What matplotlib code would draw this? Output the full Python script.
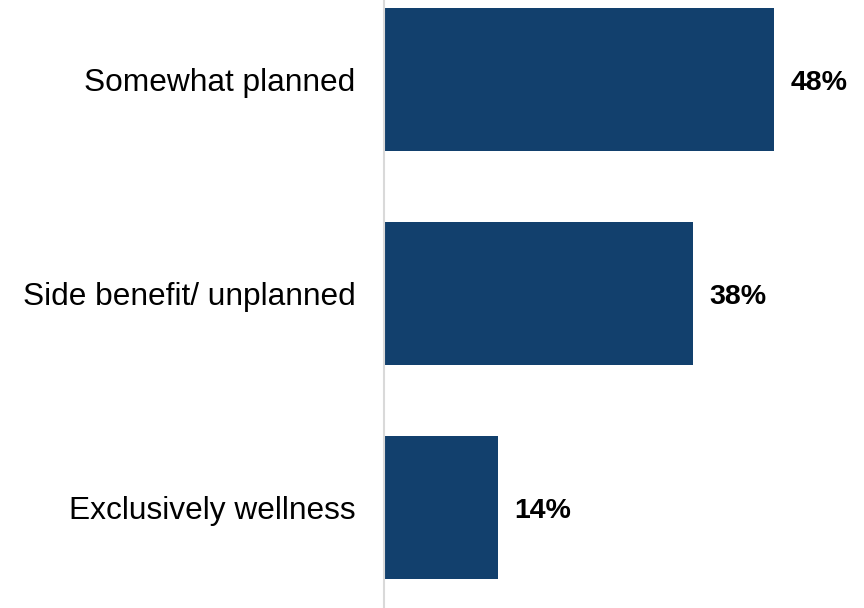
import matplotlib.pyplot as plt

categories = ['Somewhat planned', 'Side benefit/ unplanned', 'Exclusively wellness']
values = [48, 38, 14]

plt.rcParams['font.family'] = ['Liberation Sans', 'DejaVu Sans']

fig = plt.figure(figsize=(8.64, 6.08), dpi=100)
ax = fig.add_axes([384 / 864, 0, 480 / 864, 1])

pos = list(range(len(categories)))
ax.barh(pos, values, height=0.668, color='#12406d', left=0)

# px per percent / per category so label offsets stay fixed in pixels
px = 480 / 59.08
py = 214
for p, v in zip(pos, values):
    ax.text(v + 16.5 / px, p + 3 / py, f'{v}%', va='center', ha='left',
            fontsize=20.5, fontweight='bold', color='black')

ax.set_xlim(0, 59.08)
ax.set_ylim(2.4696, -0.3715)

ax.set_yticks(pos)
ax.set_yticklabels(categories, fontsize=22.8)
ax.tick_params(axis='y', length=0, pad=20.6)
ax.set_xticks([])

for s in ['top', 'right', 'bottom']:
    ax.spines[s].set_visible(False)
ax.spines['left'].set_color('#d9d9d9')
ax.spines['left'].set_linewidth(1.5)

fig.savefig('out.png', dpi=100)
